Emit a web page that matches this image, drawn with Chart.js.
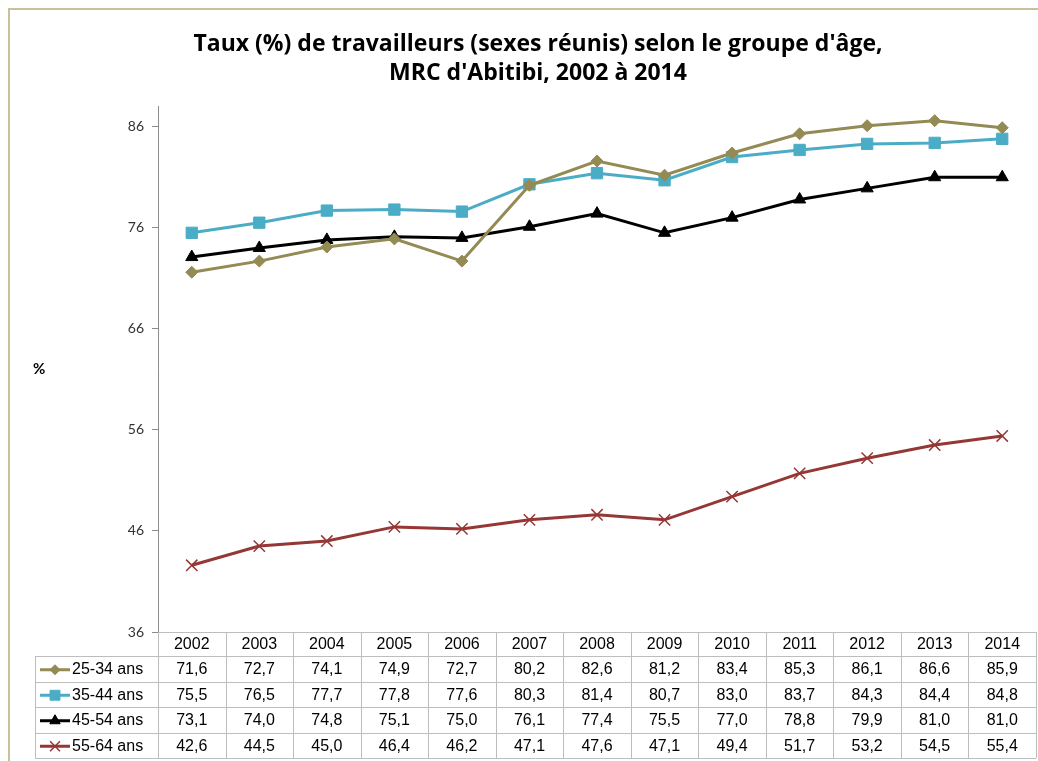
<!DOCTYPE html>
<html>
<head>
<meta charset="utf-8">
<script src="https://cdn.jsdelivr.net/npm/chart.js@4"></script>
<style>
  body { margin: 0; background: #fff; }
  #wrap { width: 1038px; height: 761px; }
</style>
</head>
<body>
<div id="wrap"><canvas id="chart1" width="1038" height="761"></canvas></div>
<script>
// data
const years = ['2002', '2003', '2004', '2005', '2006', '2007', '2008', '2009', '2010', '2011', '2012', '2013', '2014']
const g2534 = [71.6, 72.7, 74.1, 74.9, 72.7, 80.2, 82.6, 81.2, 83.4, 85.3, 86.1, 86.6, 85.9]
const g3544 = [75.5, 76.5, 77.7, 77.8, 77.6, 80.3, 81.4, 80.7, 83.0, 83.7, 84.3, 84.4, 84.8]
const g4554 = [73.1, 74.0, 74.8, 75.1, 75.0, 76.1, 77.4, 75.5, 77.0, 78.8, 79.9, 81.0, 81.0]
const g5564 = [42.6, 44.5, 45.0, 46.4, 46.2, 47.1, 47.6, 47.1, 49.4, 51.7, 53.2, 54.5, 55.4]
const yTicks = [36, 46, 56, 66, 76, 86]

const ctx1 = document.getElementById('chart1')

const serie = (label, data, color, style, radius) => ({
    label: label,
    data: data,
    borderColor: color,
    backgroundColor: color,
    borderWidth: 3,
    pointStyle: style,
    pointRadius: radius,
    pointBorderWidth: style === 'crossRot' ? 1.5 : 1,
    tension: 0,
})

// frame, "%" label and the data table under the plot
const extras = {
    id: 'extras',
    beforeDraw: (chart) => {
        const c = chart.ctx
        c.save()
        c.fillStyle = '#fff'
        c.fillRect(0, 0, chart.width, chart.height)
        c.strokeStyle = '#C9C09A'
        c.lineWidth = 2
        c.beginPath()
        c.moveTo(9, chart.height)
        c.lineTo(9, 9)
        c.lineTo(chart.width, 9)
        c.stroke()
        c.restore()
    },
    afterDraw: (chart) => {
        const c = chart.ctx
        const x = chart.scales.x
        const area = chart.chartArea
        const n = years.length
        const w = (x.right - x.left) / n
        const top = area.bottom
        const headH = 24
        const rowH = 25.5
        const left = 35
        const sets = chart.data.datasets
        const bottom = top + headH + rowH * sets.length

        c.save()
        c.font = 'bold 15px Lato'
        c.fillStyle = '#000'
        c.textAlign = 'left'
        c.textBaseline = 'middle'
        c.fillText('%', 33, (area.top + area.bottom) / 2)

        // grid
        c.strokeStyle = '#BDBDBD'
        c.lineWidth = 1
        c.beginPath()
        c.moveTo(x.left, top + 0.5)
        c.lineTo(x.right, top + 0.5)
        for (let r = 0; r <= sets.length; r++) {
            const yy = Math.round(top + headH + r * rowH) + 0.5
            c.moveTo(left, yy)
            c.lineTo(x.right, yy)
        }
        c.moveTo(left + 0.5, top + headH)
        c.lineTo(left + 0.5, bottom)
        for (let i = 0; i <= n; i++) {
            const xx = Math.round(x.left + i * w) + 0.5
            c.moveTo(xx, top)
            c.lineTo(xx, bottom)
        }
        c.stroke()

        c.font = '16px "Liberation Sans"'
        c.fillStyle = '#000'
        c.textAlign = 'center'
        years.forEach((y, i) => {
            c.fillText(y, x.getPixelForValue(i), top + headH / 2 + 1)
        })
        sets.forEach((ds, r) => {
            const cy = top + headH + r * rowH + rowH / 2 + 1
            c.fillStyle = '#000'
            ds.data.forEach((v, i) => {
                c.fillText(v.toFixed(1).replace('.', ','), x.getPixelForValue(i), cy)
            })
            // legend key
            c.strokeStyle = ds.borderColor
            c.fillStyle = ds.borderColor
            c.lineWidth = 3
            c.beginPath()
            c.moveTo(40, cy)
            c.lineTo(70, cy)
            c.stroke()
            c.lineWidth = ds.pointBorderWidth
            Chart.helpers.drawPoint(c, {
                pointStyle: ds.pointStyle,
                radius: ds.pointStyle === 'crossRot' ? 7 : ds.pointRadius - 1,
                borderWidth: ds.pointBorderWidth,
                rotation: 0,
            }, 55, cy)
            c.fillStyle = '#000'
            c.textAlign = 'left'
            c.fillText(ds.label, 72, cy)
            c.textAlign = 'center'
        })
        c.restore()
    },
}

const chart1 = new Chart(ctx1, {
    type: 'line',
    data: {
        labels: years,
        datasets: [
            serie('25-34 ans', g2534, '#948A54', 'rectRot', 6),
            serie('35-44 ans', g3544, '#4BACC6', 'rect', 8),
            serie('45-54 ans', g4554, '#000000', 'triangle', 7),
            serie('55-64 ans', g5564, '#953735', 'crossRot', 8),
        ],
    },
    options: {
        responsive: false,
        animation: false,
        layout: {
            autoPadding: false,
            padding: { left: 40, right: 2, top: 1, bottom: 129 },
        },
        plugins: {
            legend: { display: false },
            tooltip: { enabled: false },
            title: {
                display: true,
                text: ["Taux (%) de travailleurs (sexes réunis) selon le groupe d'âge,", "MRC d'Abitibi, 2002 à 2014"],
                color: '#000',
                font: { family: 'Open Sans', size: 23, weight: 'bold', lineHeight: 1.25 },
                padding: { top: 29, bottom: 19 },
            },
        },
        scales: {
            x: {
                display: false,
                offset: true,
            },
            y: {
                min: 36,
                max: 88,
                afterBuildTicks: (scale) => {
                    scale.ticks = yTicks.map((v) => ({ value: v }))
                },
                afterFit: (scale) => {
                    scale.width = 118
                },
                border: { display: true, color: '#8C8C8C', width: 1 },
                grid: {
                    display: true,
                    drawOnChartArea: false,
                    drawTicks: true,
                    tickLength: 6,
                    color: '#8C8C8C',
                },
                ticks: {
                    color: '#333',
                    font: { family: 'Lato', size: 14 },
                    padding: 8,
                },
            },
        },
    },
    plugins: [extras],
})
</script>
</body>
</html>
